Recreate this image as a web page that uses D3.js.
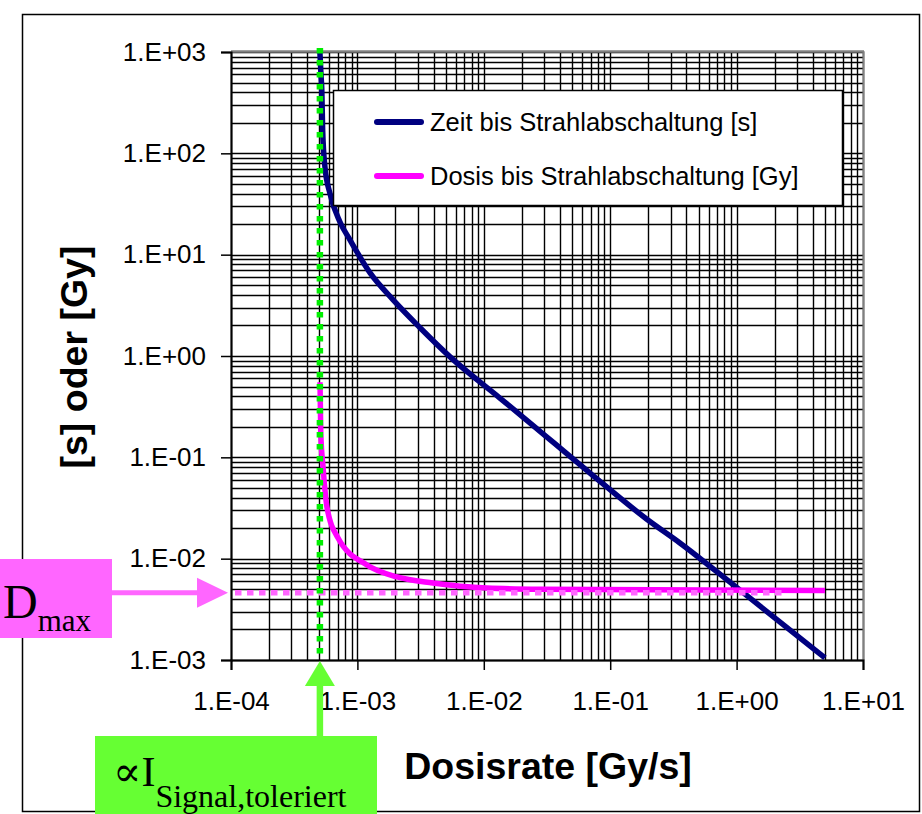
<!DOCTYPE html>
<html><head><meta charset="utf-8">
<script src="https://cdn.jsdelivr.net/npm/d3@7"></script>
<style>body{margin:0;background:#fff} svg{display:block}</style>
</head><body><svg id="c" width="922" height="814"></svg>
<script>
// ---- data ----
const xTicks = [1e-4, 1e-3, 1e-2, 1e-1, 1, 10];
const xTickLabels = ["1.E-04", "1.E-03", "1.E-02", "1.E-01", "1.E+00", "1.E+01"];
const yTicks = [1e-3, 1e-2, 1e-1, 1, 10, 100, 1000];
const yTickLabels = ["1.E-03", "1.E-02", "1.E-01", "1.E+00", "1.E+01", "1.E+02", "1.E+03"];
const seriesNames = ["Zeit bis Strahlabschaltung [s]", "Dosis bis Strahlabschaltung [Gy]"];
const timeRate   = [5.05e-4, 5.15e-4, 5.23e-4, 5.31e-4, 5.54e-4, 6.07e-4, 7.28e-4, 8.73e-4, 1.26e-3, 1.91e-3, 3.13e-3, 5.41e-3, 1.34e-2, 2.04e-2, 6.92e-2, 0.195, 0.356, 1.0, 5.0];
const timeValues = [1000, 600, 420, 170, 73, 40, 21, 14, 6.6, 3.6, 1.9, 0.98, 0.385, 0.25, 0.070, 0.0245, 0.0143, 5.2e-3, 1.05e-3];
const doseRate   = [5.06e-4, 5.13e-4, 5.35e-4, 5.75e-4, 7.03e-4, 1.19e-3, 2.06e-3, 3.96e-3, 1.06e-2, 2.79e-2, 5.0];
const doseValues = [0.55, 0.174, 0.080, 0.032, 0.016, 8.65e-3, 6.6e-3, 5.75e-3, 5.13e-3, 5.0e-3, 4.85e-3];
const thresholdRate = 5.05e-4;
const dmaxValue = 4.6e-3;
const dmaxLineRange = [1e-4, 2.3];

// ---- layout ----
const svg = d3.select("#c");
const L = 231, R = 863, T = 52, B = 660;
const x = d3.scaleLog().domain([1e-4, 10]).range([L, R]);
const y = d3.scaleLog().domain([1e-3, 1000]).range([B, T]);
const sans = "'Liberation Sans', Arial, sans-serif";
const serif = "'Liberation Serif', 'Times New Roman', 'DejaVu Serif', serif";

// outer chart border
svg.append("rect").attr("x", 22.5).attr("y", 14.5).attr("width", 897).attr("height", 797)
  .attr("fill", "#fff").attr("stroke", "#000").attr("stroke-width", 1.5);

// gridlines (major + minor)
const minorX = [], minorY = [];
for (let e = -4; e < 1; e++) for (let m = 1; m <= 9; m++) minorX.push(m * Math.pow(10, e));
minorX.push(10);
for (let e = -3; e < 3; e++) for (let m = 1; m <= 9; m++) minorY.push(m * Math.pow(10, e));
minorY.push(1000);
const g = svg.append("g");
g.selectAll("line.vx").data(minorX).join("line")
  .attr("x1", d => Math.round(x(d)) + 0.5).attr("x2", d => Math.round(x(d)) + 0.5)
  .attr("y1", T).attr("y2", B).attr("stroke", "#000").attr("stroke-width", 1.4);
g.selectAll("line.hy").data(minorY).join("line")
  .attr("y1", d => Math.round(y(d)) + 0.5).attr("y2", d => Math.round(y(d)) + 0.5)
  .attr("x1", L).attr("x2", R).attr("stroke", "#000").attr("stroke-width", 1.4);

// plot area border (top/right gray)
svg.append("line").attr("x1", L).attr("x2", R + 1).attr("y1", T - 0.5).attr("y2", T - 0.5).attr("stroke", "#808080").attr("stroke-width", 2.5);
svg.append("line").attr("x1", R + 0.5).attr("x2", R + 0.5).attr("y1", T - 1).attr("y2", B).attr("stroke", "#808080").attr("stroke-width", 2);

// axes
const xAxis = svg.append("g").attr("transform", `translate(0,${B})`)
  .call(d3.axisBottom(x).tickValues(xTicks).tickSize(10).tickPadding(22)
    .tickFormat((d, i) => xTickLabels[i]));
const yAxis = svg.append("g").attr("transform", `translate(${L},0)`)
  .call(d3.axisLeft(y).tickValues(yTicks).tickSize(10).tickPadding(15)
    .tickFormat((d, i) => yTickLabels[i]));
[xAxis, yAxis].forEach(a => {
  a.selectAll("text").attr("font-family", sans).attr("font-size", 26).attr("fill", "#000");
  a.selectAll("line").attr("stroke", "#000").attr("stroke-width", 1.5);
  a.select(".domain").attr("stroke", "#000").attr("stroke-width", 2);
});

// curves
const line = d3.line().x(d => x(d[0])).y(d => y(d[1])).curve(d3.curveMonotoneX);
svg.append("path").datum(timeRate.map((r, i) => [r, timeValues[i]]))
  .attr("d", line).attr("fill", "none").attr("stroke", "#000080").attr("stroke-width", 5.5)
  .attr("stroke-linejoin", "round");
svg.append("path").datum(doseRate.map((r, i) => [r, doseValues[i]]))
  .attr("d", line).attr("fill", "none").attr("stroke", "#ff00ff").attr("stroke-width", 5.5)
  .attr("stroke-linejoin", "round");

// Dmax dotted line
svg.append("line").attr("x1", x(dmaxLineRange[0]) + 4).attr("x2", x(dmaxLineRange[1]))
  .attr("y1", y(dmaxValue)).attr("y2", y(dmaxValue))
  .attr("stroke", "#ff66ff").attr("stroke-width", 5.5).attr("stroke-dasharray", "6.5,5.5");
// threshold dotted line
svg.append("line").attr("x1", x(thresholdRate)).attr("x2", x(thresholdRate))
  .attr("y1", T - 4).attr("y2", B)
  .attr("stroke", "#00ee00").attr("stroke-width", 6.5).attr("stroke-dasharray", "5.5,6.5");

// legend
const lg = svg.append("g");
lg.append("rect").attr("x", 333.5).attr("y", 90.5).attr("width", 509).attr("height", 115)
  .attr("fill", "#fff").attr("stroke", "#000").attr("stroke-width", 1.5);
const legColors = ["#000080", "#ff00ff"];
seriesNames.forEach((n, i) => {
  const yy = 122 + i * 54;
  lg.append("line").attr("x1", 377).attr("x2", 421).attr("y1", yy).attr("y2", yy)
    .attr("stroke", legColors[i]).attr("stroke-width", 6).attr("stroke-linecap", "round");
  lg.append("text").attr("x", 430).attr("y", yy + 9).text(n)
    .attr("font-family", sans).attr("font-size", 25.5).attr("fill", "#000");
});

// axis titles
svg.append("text").attr("x", 548).attr("y", 779).attr("text-anchor", "middle")
  .attr("font-family", sans).attr("font-weight", "bold").attr("font-size", 37.5).text("Dosisrate [Gy/s]");
svg.append("text").attr("transform", "translate(87,357) rotate(-90)").attr("text-anchor", "middle")
  .attr("font-family", sans).attr("font-weight", "bold").attr("font-size", 37.5).text("[s] oder [Gy]");

// Dmax callout
const yD = y(dmaxValue);
svg.append("rect").attr("x", 0).attr("y", 559).attr("width", 112).attr("height", 79).attr("fill", "#ff66ff");
svg.append("line").attr("x1", 112).attr("x2", x(dmaxLineRange[0]) - 30).attr("y1", yD).attr("y2", yD)
  .attr("stroke", "#ff66ff").attr("stroke-width", 5);
svg.append("path").attr("d", `M${x(dmaxLineRange[0]) - 3},${yD} L${x(dmaxLineRange[0]) - 34},${yD - 15} L${x(dmaxLineRange[0]) - 34},${yD + 15} Z`)
  .attr("fill", "#ff66ff");
const dt = svg.append("text").attr("x", 3).attr("y", 618).attr("font-family", serif).attr("fill", "#000");
dt.append("tspan").attr("font-size", 48).text("D");
dt.append("tspan").attr("font-size", 31).attr("dy", 13).text("max");

// threshold callout
const xT = x(thresholdRate);
svg.append("rect").attr("x", 95).attr("y", 736).attr("width", 282).attr("height", 78).attr("fill", "#66ff33");
svg.append("line").attr("x1", xT).attr("x2", xT).attr("y1", 736).attr("y2", B + 24)
  .attr("stroke", "#66ff33").attr("stroke-width", 6.5);
svg.append("path").attr("d", `M${xT},${B + 1} L${xT - 15},${B + 26} L${xT + 15},${B + 26} Z`).attr("fill", "#66ff33");
const it = svg.append("text").attr("x", 113).attr("y", 786).attr("font-family", serif).attr("fill", "#000");
it.append("tspan").attr("font-size", 42).text("\u221DI");
it.append("tspan").attr("font-size", 32).attr("dy", 21).text("Signal,toleriert");
</script></body></html>
